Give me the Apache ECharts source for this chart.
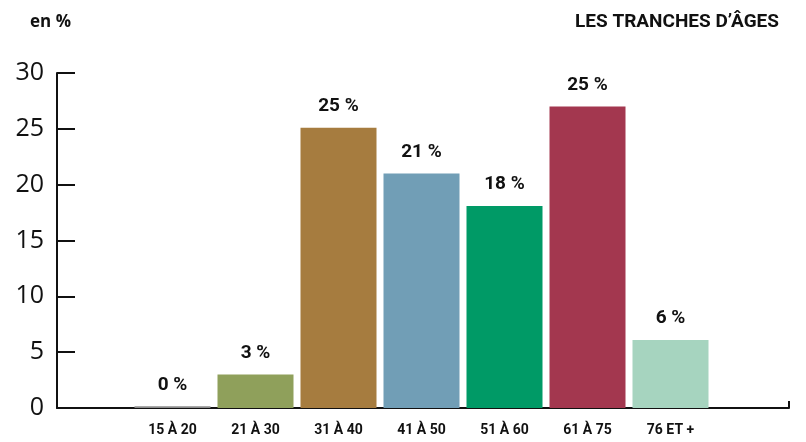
<!DOCTYPE html>
<html>
<head>
<meta charset="utf-8">
<script src="https://cdn.jsdelivr.net/npm/echarts@6/dist/echarts.min.js"></script>
<style>html,body{margin:0;padding:0;background:#fff}#c{width:806px;height:442px}</style>
</head>
<body>
<div id="c"></div>
<script>
const categories = ['15 À 20', '21 À 30', '31 À 40', '41 À 50', '51 À 60', '61 À 75', '76 ET +'];
const values = [0.15, 3, 25.1, 21, 18.1, 27, 6.1];
const valueLabels = ['0 %', '3 %', '25 %', '21 %', '18 %', '25 %', '6 %'];
const barColors = ['#8c8c8c', '#8fa05b', '#a67c3f', '#719eb6', '#009a66', '#a3374f', '#a6d4bf'];
const yTicks = [0, 5, 10, 15, 20, 25, 30];

const chart = echarts.init(document.getElementById('c'), null, {renderer: 'canvas'});
const TOP = 73, BOTTOM = 442 - 408;
chart.setOption({
  animation: false,
  backgroundColor: '#fff',
  title: [
    {text: 'en %', left: 25, top: 9, textStyle: {fontFamily: 'Open Sans', fontWeight: 'bold', fontSize: 17, color: '#111'}},
    {text: 'LES TRANCHES D’ÂGES', right: 22, top: 8, textStyle: {fontFamily: 'Roboto', fontWeight: 'bold', fontSize: 19, color: '#111'}}
  ],
  grid: [
    {left: 57, right: 806 - 789, top: TOP, bottom: BOTTOM},
    {left: 131, right: 806 - 712, top: TOP, bottom: BOTTOM}
  ],
  xAxis: [
    {gridIndex: 0, type: 'value', min: 0, max: 1, interval: 1,
     axisLine: {show: true, lineStyle: {color: '#111', width: 2}},
     axisTick: {show: true, inside: true, length: 7, lineStyle: {color: '#111', width: 2}},
     axisLabel: {show: false}, splitLine: {show: false}},
    {gridIndex: 1, type: 'category', data: categories,
     axisLine: {show: false}, axisTick: {show: false}, splitLine: {show: false},
     axisLabel: {show: true, margin: 15, fontFamily: 'Roboto', fontWeight: 'bold', fontSize: 14, color: '#111'}}
  ],
  yAxis: [
    {gridIndex: 0, type: 'value', min: 0, max: 30, interval: 5,
     axisLine: {show: true, lineStyle: {color: '#111', width: 2}},
     axisTick: {show: true, inside: true, length: 18, lineStyle: {color: '#111', width: 2}},
     axisLabel: {show: true, margin: 13, fontFamily: 'Open Sans', fontSize: 25, color: '#111',
       formatter: v => yTicks.includes(v) ? String(v) : ''},
     splitLine: {show: false}},
    {gridIndex: 1, type: 'value', min: 0, max: 30, interval: 5, show: false}
  ],
  series: [{
    type: 'bar', xAxisIndex: 1, yAxisIndex: 1, barWidth: 76,
    data: values.map((v, i) => ({value: v, itemStyle: {color: barColors[i]}})),
    label: {show: true, position: 'top', distance: 12,
      formatter: p => valueLabels[p.dataIndex],
      fontFamily: 'Roboto', fontWeight: 'bold', fontSize: 19, color: '#111'}
  }]
});
</script>
</body>
</html>
